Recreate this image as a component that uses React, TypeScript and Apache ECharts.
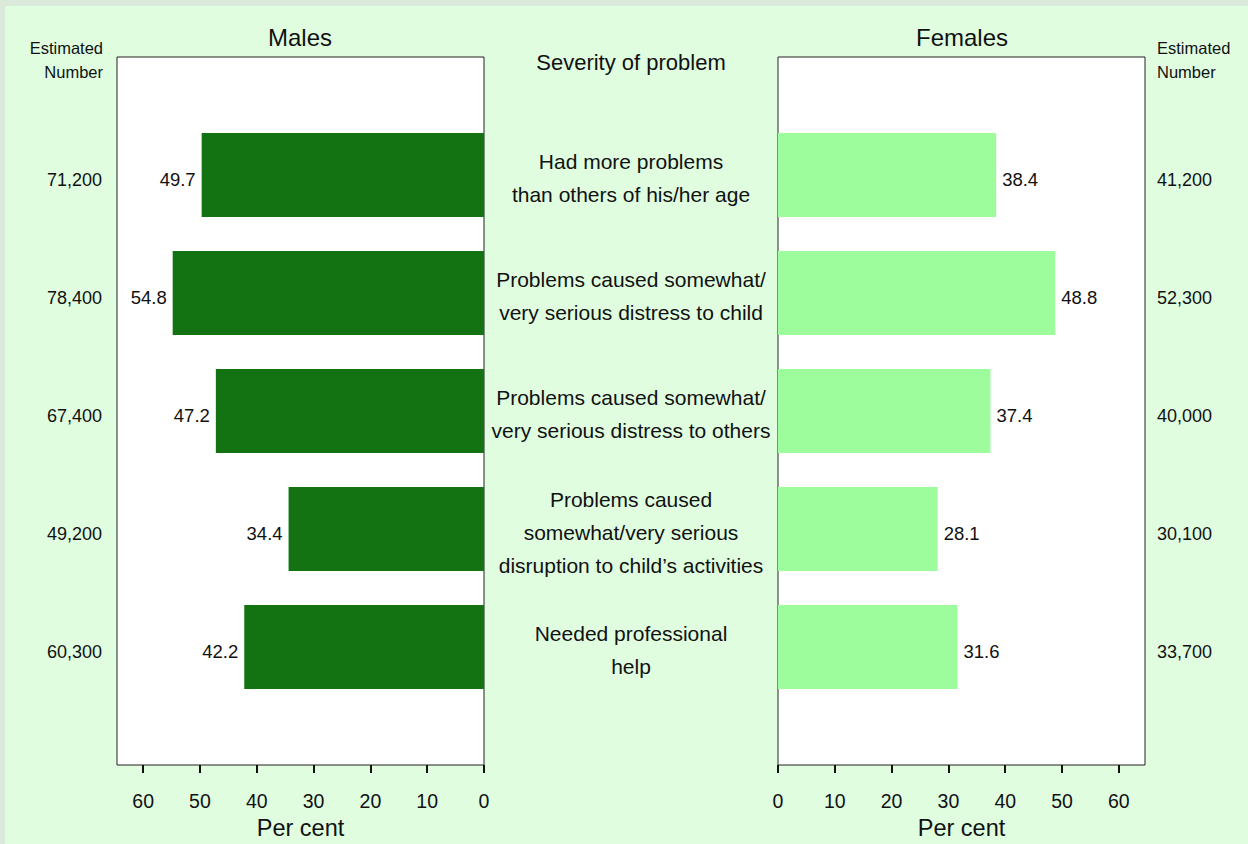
import React, { useEffect, useRef } from "react";
import * as echarts from "echarts";

const categories = [
  "",
  "Had more problems\nthan others of his/her age",
  "Problems caused somewhat/\nvery serious distress to child",
  "Problems caused somewhat/\nvery serious distress to others",
  "Problems caused\nsomewhat/very serious\ndisruption to child\u2019s activities",
  "Needed professional\nhelp",
  "",
];
const malesPct = [null, 49.7, 54.8, 47.2, 34.4, 42.2, null];
const femalesPct = [null, 38.4, 48.8, 37.4, 28.1, 31.6, null];
const malesEstimated = ["", "71,200", "78,400", "67,400", "49,200", "60,300", ""];
const femalesEstimated = ["", "41,200", "52,300", "40,000", "30,100", "33,700", ""];
const tickValues = [0, 10, 20, 30, 40, 50, 60];

const FONT = "'Liberation Sans', Arial, sans-serif";
const TXT = "#111";

export default function App() {
  const ref = useRef<HTMLDivElement>(null);
  useEffect(() => {
    if (!ref.current) return;
    const chart = echarts.init(ref.current, null, { renderer: "svg" });
    const xAxisCommon = (inverse: boolean, gridIndex: number) => ({
      type: "value",
      gridIndex,
      min: 0,
      max: 64.6,
      inverse,
      position: "bottom",
      splitLine: { show: false },
      axisLine: { show: false },
      axisTick: {
        show: true,
        inside: false,
        length: 8,
        customValues: tickValues,
        lineStyle: { color: TXT, width: 2 },
      },
      axisLabel: {
        customValues: tickValues,
        fontSize: 19.5,
        color: TXT,
        fontFamily: FONT,
        margin: 26,
      },
      name: "Per cent",
      nameLocation: "middle",
      nameGap: 51,
      nameTextStyle: { fontSize: 23.5, color: TXT, fontFamily: FONT },
    });
    const yCommon = (gridIndex: number) => ({
      type: "category",
      gridIndex,
      data: categories,
      inverse: true,
      boundaryGap: false,
      axisLine: { show: false },
      axisTick: { show: false },
      splitLine: { show: false },
    });
    const gridCommon = {
      top: 57,
      width: 367,
      height: 708,
      show: true,
      backgroundColor: "#ffffff",
      borderColor: "#222",
      borderWidth: 1,
      outerBoundsMode: "none",
      containLabel: false,
    };
    const estRich = { e: { fontSize: 18, color: TXT, fontFamily: FONT, padding: [9, 0, 0, 0] } };
    const catRich = {
      n: { fontSize: 21, lineHeight: 33, color: TXT, fontFamily: FONT, padding: [6, 0, 0, 0] },
    };
    const barLabel = {
      show: true,
      position: "outside",
      distance: 6,
      offset: [0, 4],
      fontSize: 18.5,
      color: TXT,
      fontFamily: FONT,
      formatter: (p: any) => p.value.toFixed(1),
    };
    chart.setOption({
      animation: false,
      textStyle: { fontFamily: FONT },
      grid: [
        { ...gridCommon, left: 117 },
        { ...gridCommon, left: 778 },
      ],
      xAxis: [xAxisCommon(true, 0), xAxisCommon(false, 1)],
      yAxis: [
        {
          ...yCommon(0),
          position: "left",
          axisLabel: {
            interval: 0,
            margin: 15,
            fontSize: 18,
            color: TXT,
            fontFamily: FONT,
            rich: estRich,
            formatter: (_v: string, i: number) => (malesEstimated[i] ? `{e|${malesEstimated[i]}}` : ""),
          },
        },
        {
          ...yCommon(0),
          position: "right",
          axisLabel: {
            interval: 0,
            margin: 147,
            align: "center",
            fontSize: 21,
            lineHeight: 33,
            color: TXT,
            fontFamily: FONT,
            rich: catRich,
            formatter: (v: string) => {
              if (!v) return "";
              return v
                .split("\n")
                .map((l) => `{n|${l}}`)
                .join("\n");
            },
          },
        },
        {
          ...yCommon(1),
          position: "right",
          axisLabel: {
            interval: 0,
            margin: 12,
            fontSize: 18,
            color: TXT,
            fontFamily: FONT,
            rich: estRich,
            formatter: (_v: string, i: number) => (femalesEstimated[i] ? `{e|${femalesEstimated[i]}}` : ""),
          },
        },
      ],
      series: [
        {
          type: "bar",
          name: "Males",
          xAxisIndex: 0,
          yAxisIndex: 0,
          data: malesPct,
          barWidth: 84,
          itemStyle: { color: "#137313" },
          label: barLabel,
        },
        {
          type: "bar",
          name: "Females",
          xAxisIndex: 1,
          yAxisIndex: 2,
          data: femalesPct,
          barWidth: 84,
          itemStyle: { color: "#9dfd9d" },
          label: barLabel,
        },
      ],
      graphic: [
        {
          type: "text",
          x: 300,
          y: 37,
          style: { text: "Males", fontSize: 24, fill: TXT, fontFamily: FONT, align: "center", verticalAlign: "middle" },
        },
        {
          type: "text",
          x: 962,
          y: 37,
          style: { text: "Females", fontSize: 24, fill: TXT, fontFamily: FONT, align: "center", verticalAlign: "middle" },
        },
        {
          type: "text",
          x: 631,
          y: 62,
          style: { text: "Severity of problem", fontSize: 22, fill: TXT, fontFamily: FONT, align: "center", verticalAlign: "middle" },
        },
        {
          type: "text",
          x: 103,
          y: 60,
          style: {
            text: "Estimated\nNumber",
            fontSize: 16.5,
            lineHeight: 24,
            fill: TXT,
            fontFamily: FONT,
            align: "right",
            verticalAlign: "middle",
          },
        },
        {
          type: "text",
          x: 1157,
          y: 60,
          style: {
            text: "Estimated\nNumber",
            fontSize: 16.5,
            lineHeight: 24,
            fill: TXT,
            fontFamily: FONT,
            align: "left",
            verticalAlign: "middle",
          },
        },
      ],
    });
    return () => chart.dispose();
  }, []);

  return (
    <div style={{ position: "fixed", left: 0, top: 0, width: 1248, height: 844, background: "#dbe9db", overflow: "hidden" }}>
      <div style={{ position: "absolute", left: 5, top: 6, right: 0, bottom: 0, background: "#e0fde0" }} />
      <div ref={ref} style={{ position: "absolute", left: 0, top: 0, width: 1248, height: 844 }} />
    </div>
  );
}
